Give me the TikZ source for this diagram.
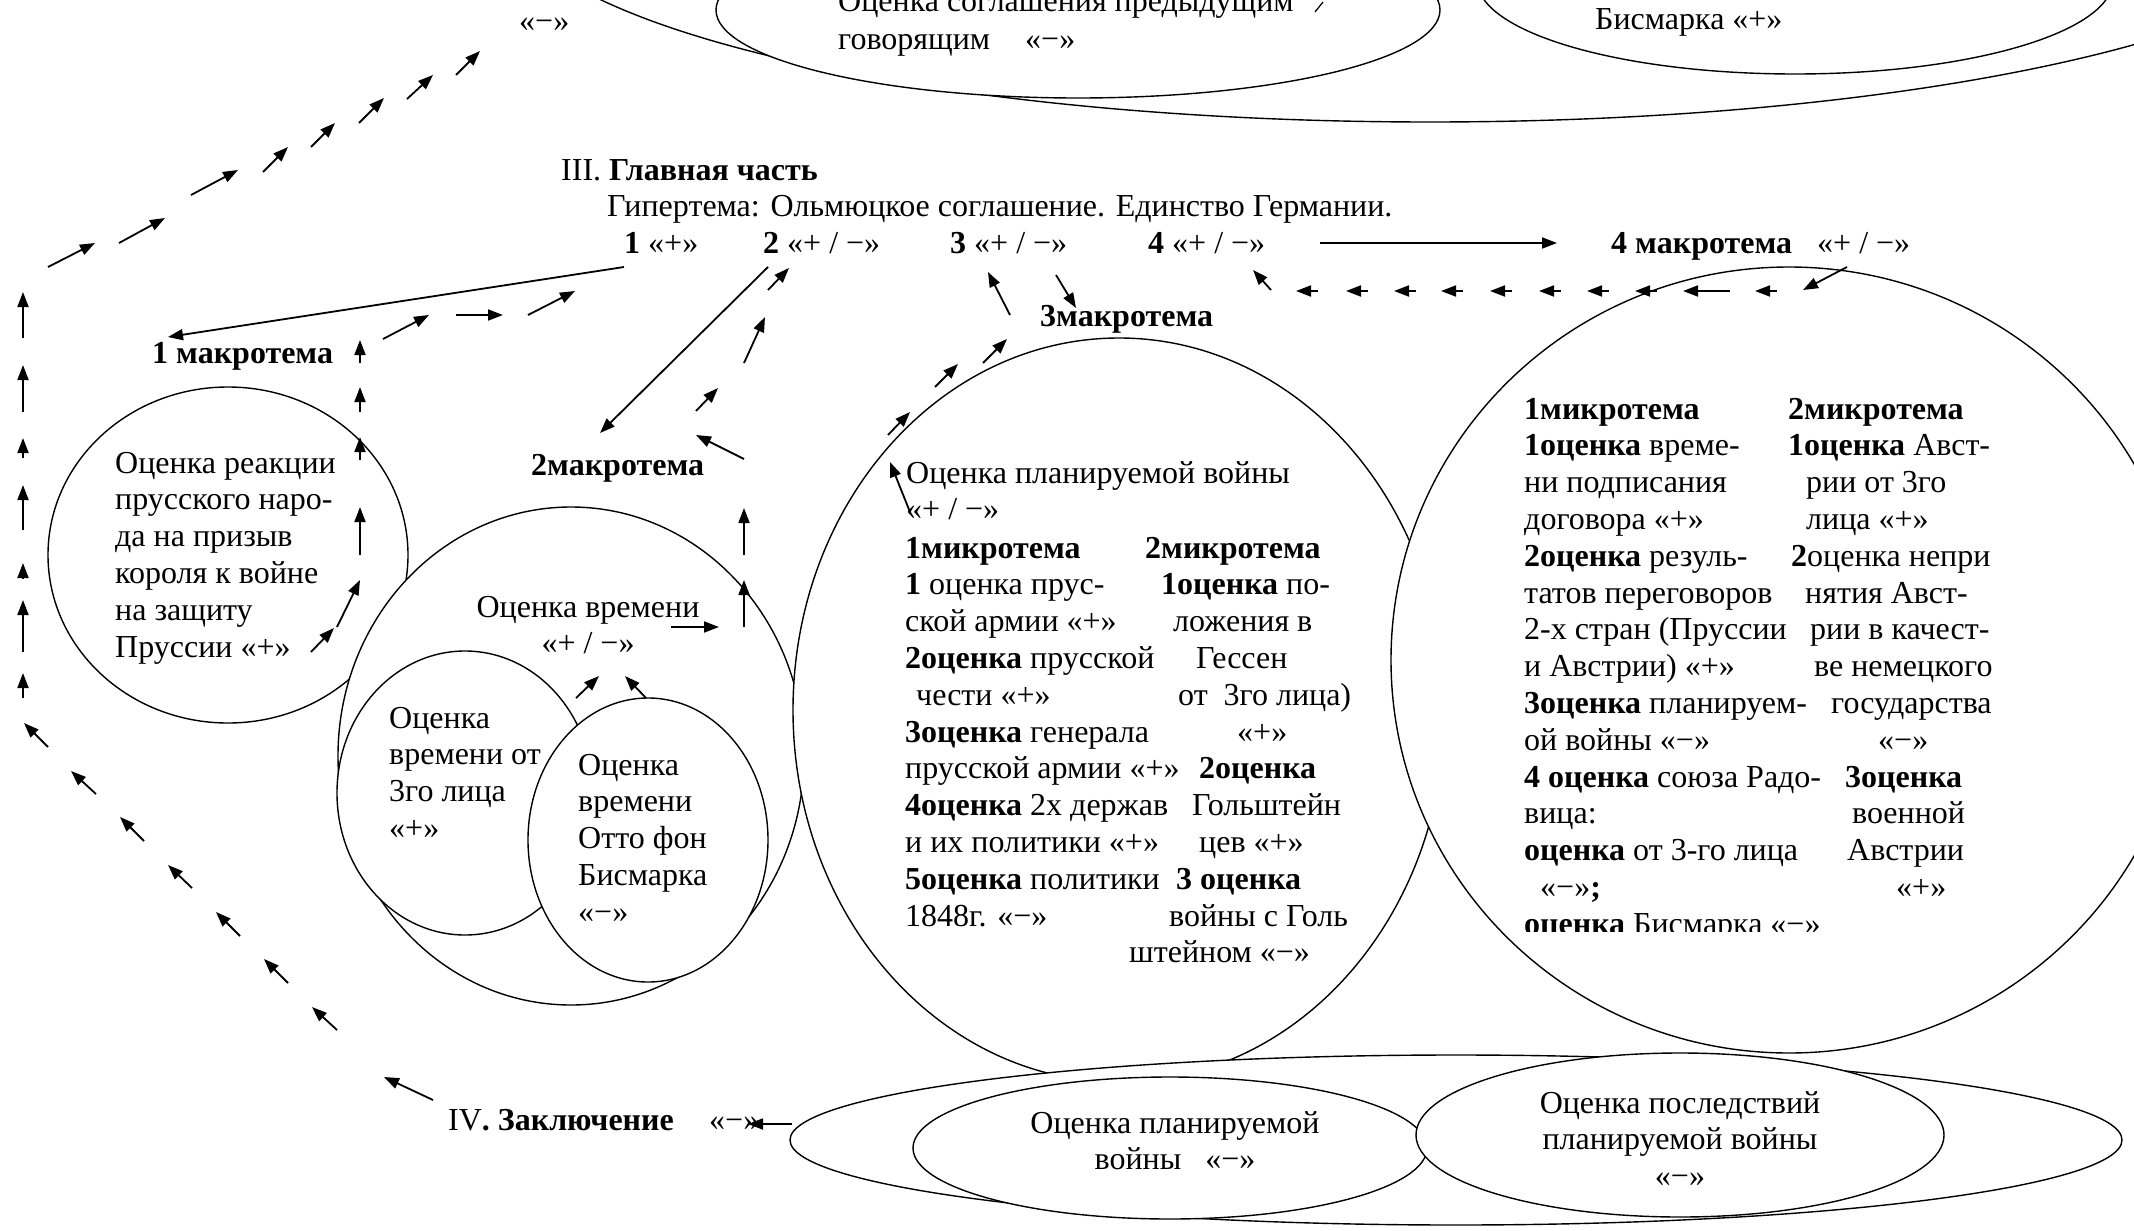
\documentclass[tikz,border=0pt]{standalone}
\usepackage{fontspec}
\setmainfont{Liberation Serif}
\usetikzlibrary{arrows.meta,shapes.geometric}
\newlength\lsk \setlength\lsk{36.8pt}
\newcommand\mlL[1]{\vtop{\baselineskip=\lsk\lineskiplimit=-100pt\lineskip=0pt\halign{##\hfil\cr#1\crcr}}}
\newcommand\mlC[1]{\vtop{\baselineskip=\lsk\lineskiplimit=-100pt\lineskip=0pt\halign{\hfil##\hfil\cr#1\crcr}}}
\tikzset{
  ell/.style={draw, ellipse, fill=white, line width=1.4pt, inner sep=0pt},
  txt/.style={inner sep=0pt, anchor=base west},
  ctxt/.style={inner sep=0pt, anchor=base},
  arr/.style={line width=1.8pt, -{Triangle[length=15pt,width=11pt]}},
}
\begin{document}
\begin{tikzpicture}[x=1pt,y=-1pt,font=\fontsize{32}{36.8}\selectfont]
\useasboundingbox (0,0) rectangle (2134,1231);
\clip (0,0) rectangle (2134,1231);

% ---- top group
\node[ell, minimum width=1856pt, minimum height=444pt] (topouter) at (1430,-100) {};
\node[ell, minimum width=724pt, minimum height=176pt] (topA) at (1078,10) {};
\node[ell, minimum width=636pt, minimum height=188pt] (topB) at (1795,-20) {};
\node[txt] (tA1) at (838,12) {Оценка соглашения предыдущим};
\node[txt] (tA2) at (838,50) {говорящим};
\node[txt] (tA3) at (1025,50) {«−»};
\node[txt] (tB1) at (1595,30) {Бисмарка «+»};
\node[txt] (topminus) at (519,32) {«−»};
\coordinate (mk1) at (1323,2);
\coordinate (mk2) at (1315,12);
\draw[line width=1.2pt] (mk1) -- (mk2);

% ---- headings
\node[txt] (h3) at (561,180) {III. \textbf{Главная часть}};
\node[txt] (hyp) at (607,216) {Гипертема: Ольмюцкое соглашение. Единство Германии.};
\node[txt] (r1) at (624,253) {\textbf{1} «+»};
\node[txt] (r2) at (763,253) {\textbf{2} «+ / −»};
\node[txt] (r3) at (950,253) {\textbf{3} «+ / −»};
\node[txt] (r4) at (1148,253) {\textbf{4} «+ / −»};
\node[txt] (m4) at (1611,253) {\textbf{4 макротема}};
\node[txt] (m4v) at (1817,253) {«+ / −»};
\node[txt] (m1) at (152,363) {\textbf{1 макротема}};
\node[txt] (m2) at (531,475) {\textbf{2макротема}};
\node[txt] (m3) at (1040,326) {\textbf{3макротема}};

% ---- E1
\node[ell, minimum width=360pt, minimum height=336pt] (e1) at (228,555) {};
\node[txt] (e1t) at (115,473) {\mlL{Оценка реакции\cr прусского наро-\cr да на призыв\cr короля к войне\cr на защиту\cr Пруссии «+»}};

% ---- E2
\node[ell, minimum width=466pt, minimum height=498pt] (e2) at (571,756) {};
\node[ctxt] (e2t) at (588,617) {\mlC{Оценка времени\cr «+ / −»}};
\node[ell, minimum width=256pt, minimum height=284pt] (ea) at (465,793) {};
\node[txt] (eat) at (389,728) {\mlL{Оценка\cr времени от\cr 3го лица\cr «+»}};
\node[ell, minimum width=240pt, minimum height=284pt] (eb) at (648,840) {};
\node[txt] (ebt) at (578,775) {\mlL{Оценка\cr времени\cr Отто фон\cr Бисмарка\cr «−»}};

% ---- E3
\node[ell, minimum width=652pt, minimum height=744pt] (e3) at (1119,710) {};
\node[txt] (e3h) at (906,483) {\mlL{Оценка планируемой войны\cr «+ / −»}};
\node[txt] (e3l) at (905,558) {\mlL{\textbf{1микротема}\cr
\textbf{1} оценка прус-\cr
ской армии «+»\cr
\textbf{2оценка} прусской\cr
\kern11pt чести «+»\cr
\textbf{3оценка} генерала\cr
прусской армии «+»\cr
\textbf{4оценка} 2х держав\cr
и их политики «+»\cr
\textbf{5оценка} политики\cr
1848г. «−»}};
\node[txt] (e3r) at (1129,558) {\mlL{\kern16pt\textbf{2микротема}\cr
\kern32pt\textbf{1оценка} по-\cr
\kern44pt ложения в\cr
\kern67pt Гессен\cr
\kern49pt от\ \ 3го лица)\cr
\kern108pt «+»\cr
\kern70pt\textbf{2оценка}\cr
\kern63pt Гольштейн\cr
\kern70pt цев «+»\cr
\kern47pt\textbf{3 оценка}\cr
\kern40pt войны с Голь\cr
штейном «−»}};

% ---- E4
\node[ell, minimum width=796pt, minimum height=786pt] (e4) at (1789,660) {};
\begin{scope}
\clip (1400,300) rectangle (2134,931);
\node[txt] (e4l) at (1524,419) {\mlL{\textbf{1микротема}\cr
\textbf{1оценка} време-\cr
ни подписания\cr
договора «+»\cr
\textbf{2оценка} резуль-\cr
татов переговоров\cr
2-х стран (Пруссии\cr
и Австрии) «+»\cr
\textbf{3оценка} планируем-\cr
ой войны «−»\cr
\textbf{4 оценка} союза Радо-\cr
вица:\cr
\textbf{оценка} от 3-го лица\cr
\kern16pt«−»\textbf{;}\cr
\textbf{оценка} Бисмарка «−»}};
\end{scope}
\node[txt] (e4r) at (1788,419) {\mlL{\textbf{2микротема}\cr
\textbf{1оценка} Авст-\cr
\kern18pt рии от 3го\cr
\kern18pt лица «+»\cr
\kern3pt\textbf{2}оценка непри\cr
\kern17pt нятия Авст-\cr
\kern22pt рии в качест-\cr
\kern26pt ве немецкого\cr
\kern43pt государства\cr
\kern90pt «−»\cr
\kern57pt\textbf{3оценка}\cr
\kern64pt военной\cr
\kern59pt Австрии\cr
\kern108pt «+»}};

% ---- bottom group
\node[ell, minimum width=1332pt, minimum height=170pt] (bo) at (1456,1140) {};
\node[ell, minimum width=514pt, minimum height=142pt] (bl) at (1170,1148) {};
\node[ctxt] (blt) at (1175,1133) {\mlC{Оценка планируемой\cr войны\ \ \ «−»}};
\node[ell, minimum width=528pt, minimum height=164pt] (br) at (1680,1135) {};
\node[ctxt] (brt) at (1680,1113) {\mlC{Оценка последствий\cr планируемой войны\cr «−»}};

\node[txt] (concl) at (448,1130) {IV\textbf{. Заключение}};
\node[txt] (conclv) at (709,1130) {«−»};

% ---- main connectors
\coordinate (r1s) at (624,267);
\coordinate (m1e) at (168,337);
\coordinate (r2s) at (768,267);
\coordinate (m2e) at (600,433);
\coordinate (r4e) at (1320,243);
\coordinate (m4w) at (1557,243);
\coordinate (bow) at (792,1124);
\coordinate (ivend) at (748,1124);
\draw[arr] (r1s) -- (m1e);
\draw[arr] (r2s) -- (m2e);
\draw[arr] (r4e) -- (m4w);
\draw[arr] (bow) -- (ivend);

% ---- broken arrow chains
\foreach \ax/\ay/\bx/\by in {
 48/267/95/243, 119/243/165/218, 191/195/238/170, 263/172/288/147,
 311/147/335/123, 359/123/384/98, 407/99/433/75, 456/75/480/51,
 23/338/23/292, 23/412/23/365, 23/458/23/438, 23/530/23/485,
 23/578/23/563, 23/652/23/600, 23/698/23/673,
 48/747/24/723, 96/794/71/771, 144/841/120/817, 192/888/168/865,
 240/936/216/912, 288/983/264/959, 337/1030/312/1007, 433/1100/384/1077,
 311/652/334/628, 337/627/360/580, 360/555/360/507, 360/460/360/437,
 360/412/360/387, 360/363/360/340, 383/339/429/315, 456/315/503/315,
 528/315/575/291,
 671/627/719/627, 744/627/744/580, 744/555/744/508, 744/459/696/435,
 696/411/718/388, 744/363/765/317, 768/290/789/268,
 576/698/599/676, 646/698/625/676,
 910/512/890/462, 888/435/910/412, 935/387/958/364, 983/363/1007/339,
 1010/315/988/272, 1056/275/1076/308,
 1271/290/1253/270,
 1318/291/1296/291, 1368/291/1346/291, 1416/291/1394/291, 1463/291/1441/291,
 1512/291/1490/291, 1561/291/1539/291, 1609/291/1587/291, 1657/291/1635/291,
 1730/291/1683/291, 1777/291/1755/291, 1847/267/1803/290}
 {\draw[arr] (\ax,\ay) -- (\bx,\by);}
\end{tikzpicture}
\end{document}
